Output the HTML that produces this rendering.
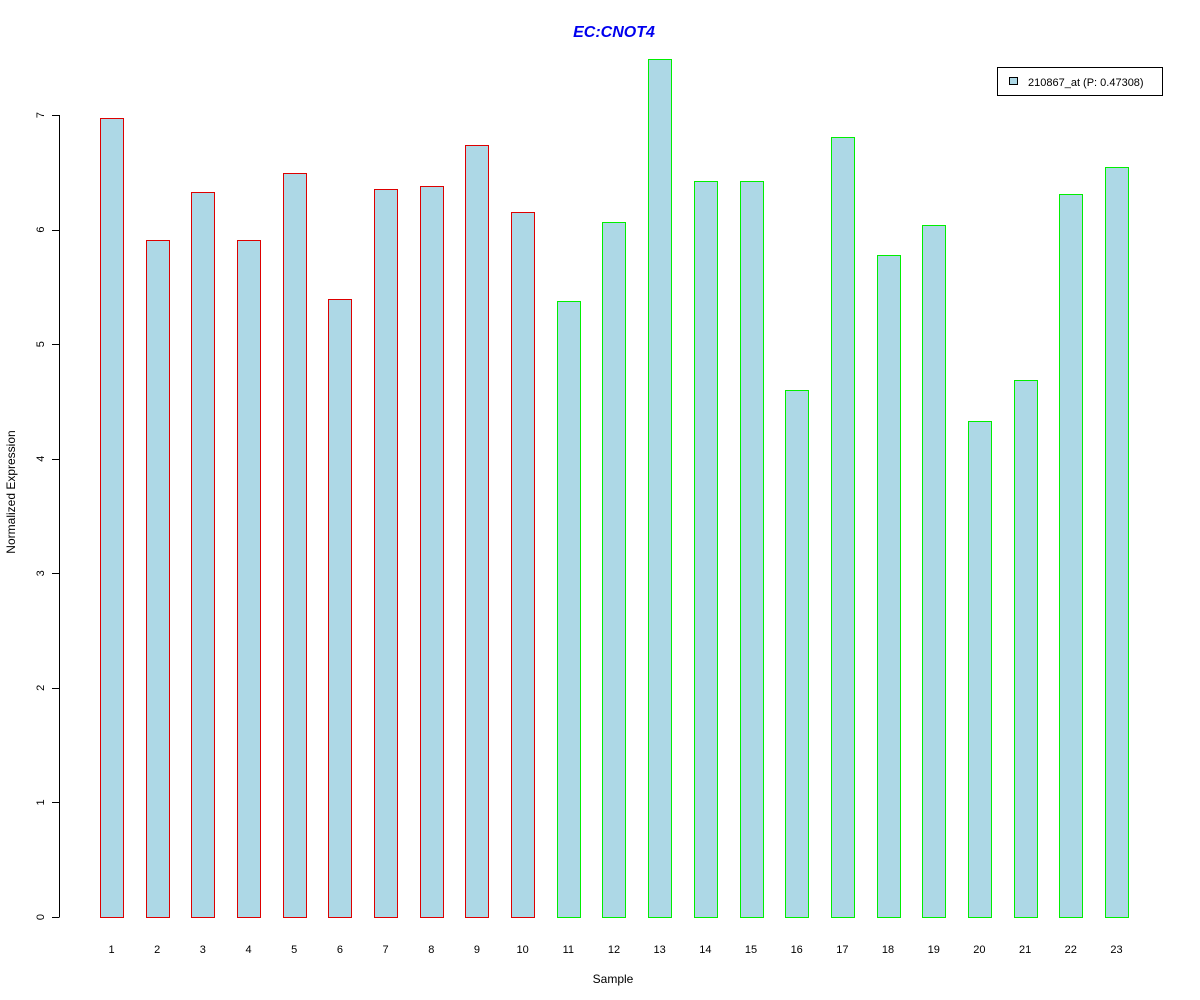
<!DOCTYPE html>
<html><head><meta charset="utf-8"><style>body{margin:0;background:#fff}svg{display:block}text{font-family:"Liberation Sans",Arial,sans-serif}</style></head>
<body>
<svg id="c" width="1200" height="1000" xmlns="http://www.w3.org/2000/svg">
<text x="614" y="37" text-anchor="middle" font-size="16" font-weight="bold" font-style="italic" fill="#0000ee">EC:CNOT4</text>
<text x="613" y="983" text-anchor="middle" font-size="12">Sample</text>
<text transform="translate(15,492) rotate(-90)" text-anchor="middle" font-size="12">Normalized Expression</text>
<g id="axis"></g>
<g id="bars"></g>
<g>
<rect x="997.5" y="67.5" width="165" height="28" fill="#fff" stroke="#000"/>
<rect x="1009.5" y="77.5" width="8" height="7" fill="#add8e6" stroke="#000"/>
<text x="1028" y="86" font-size="11">210867_at (P: 0.47308)</text>
</g>
</svg>
<script>
const categories=["1","2","3","4","5","6","7","8","9","10","11","12","13","14","15","16","17","18","19","20","21","22","23"];
const values=[6.97,5.91,6.33,5.91,6.49,5.39,6.35,6.38,6.74,6.15,5.38,6.07,7.49,6.42,6.42,4.60,6.81,5.78,6.04,4.33,4.69,6.31,6.55];
const groups=[0,0,0,0,0,0,0,0,0,0,1,1,1,1,1,1,1,1,1,1,1,1,1];
const yTicks=[0,1,2,3,4,5,6,7];
const NS="http://www.w3.org/2000/svg";
const y=v=>917-v*(802/7);
const x=i=>100+i*45.68;
const ax=document.getElementById('axis'),bg=document.getElementById('bars');
function mk(t,a,p){const e=document.createElementNS(NS,t);for(const k in a)e.setAttribute(k,a[k]);p.appendChild(e);return e;}
const al=mk('line',{x1:59.5,x2:59.5,y1:y(0),y2:y(7),stroke:'#000'},ax);


yTicks.forEach(t=>{
 const l=mk('line',{x1:52,x2:59.5,y1:Math.round(y(t))+.5,y2:Math.round(y(t))+.5,stroke:'#000'},ax);
 
 
 const tx=mk('text',{transform:`translate(44,${y(t)}) rotate(-90)`,'text-anchor':'middle','font-size':11},ax);
 tx.textContent=t;
 
 
});
values.forEach((v,i)=>{
 const r=mk('rect',{x:Math.round(x(i))+.5,y:Math.round(y(v))+.5,width:23,height:Math.round(y(0))-Math.round(y(v)),fill:'#add8e6',stroke:groups[i]?'#00ee00':'#dd0000'},bg);
 
 
 const t=mk('text',{x:x(i)+11.5,y:953,'text-anchor':'middle','font-size':11},bg);
 t.textContent=categories[i];
 
 
});
</script>
</body></html>
